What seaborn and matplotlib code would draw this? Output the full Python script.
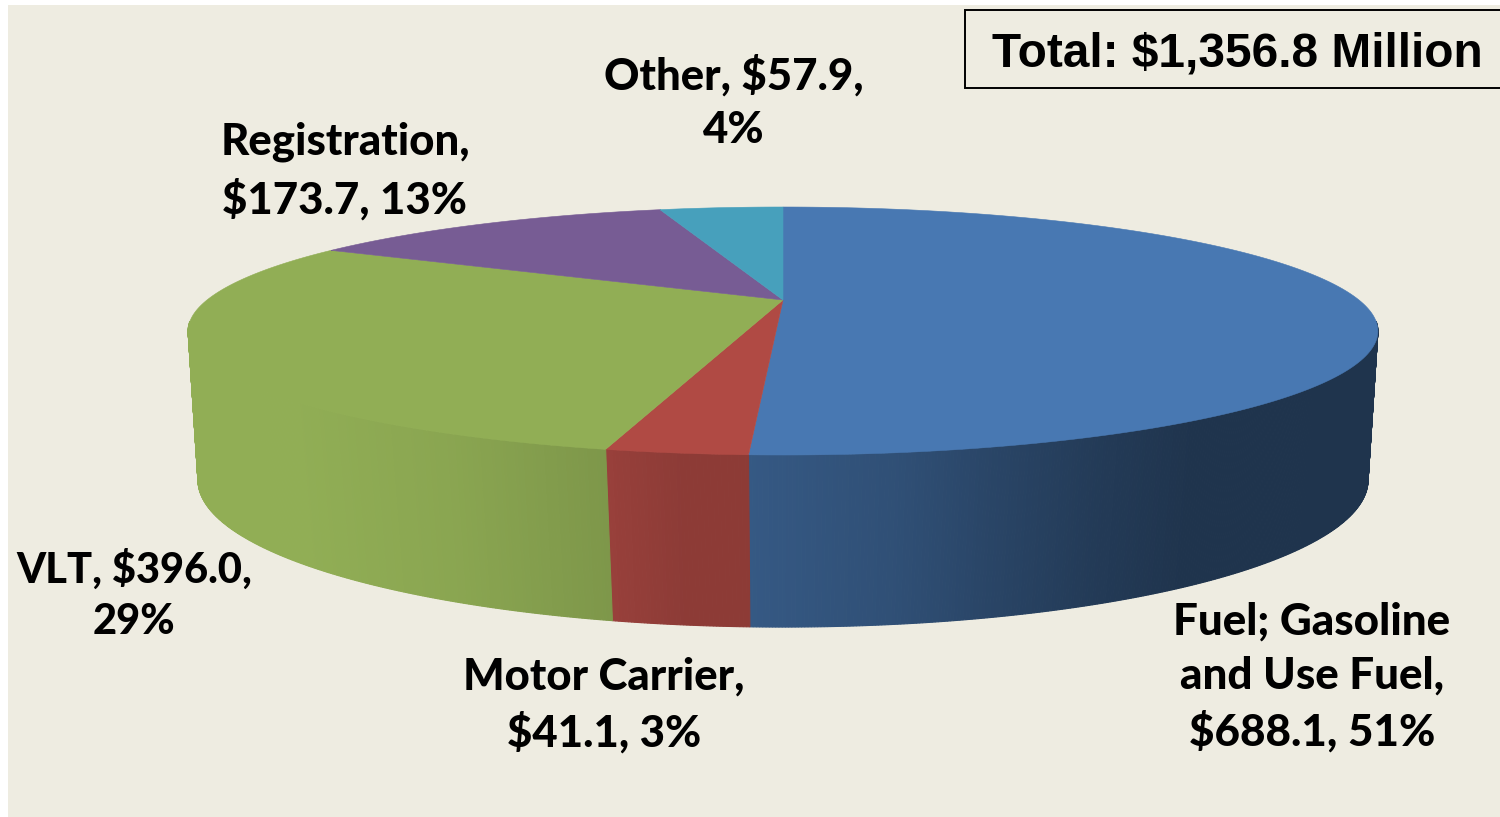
import numpy as np
import matplotlib
matplotlib.use("Agg")
import matplotlib.pyplot as plt
from matplotlib.patches import Rectangle
import seaborn as sns

# receita em milhoes de dolares
categorias = ["Fuel; Gasoline and Use Fuel", "Motor Carrier", "VLT", "Registration", "Other"]
valores = [688.1, 41.1, 396.0, 173.7, 57.9]
rotulos = [
    "Fuel; Gasoline\nand Use Fuel,\n$688.1, 51%",
    "Motor Carrier,\n$41.1, 3%",
    "VLT, $396.0,\n29%",
    "Registration,\n$173.7, 13%",
    "Other, $57.9,\n4%",
]
total_texto = "Total: $1,356.8 Million"

# estilo
sns.set_theme(style="white")
cores = sns.color_palette(["#4878B2", "#B04A44", "#91AE55", "#775C94", "#47A0BC"])
fundo = "#EEECE1"
pos_rotulos = [(1312, 677), (604, 705), (134, 595), (345, 171), (734, 102)]
tam_rotulos = [31.7, 31.5, 30, 31.5, 31.5]


def borda(theta, a, b, cy, k, cx=783):
    # circulo projetado em perspectiva
    u = np.sin(theta)
    v = np.cos(theta)
    d = 1 + k * v
    return cx + a * u / d, cy - b * v / d


def topo(theta):
    return borda(theta, 576, 116.25, 300, 0.25)


def base(theta):
    return borda(theta, 569.6, 139.4, 446.5, 0.228)


def sombra(x):
    return np.interp(x, [290, 450, 600, 750, 900, 1000, 1100, 1200, 1378],
                     [1.0, 0.95, 0.87, 0.74, 0.66, 0.57, 0.49, 0.43, 0.43])


fig = plt.figure(figsize=(15, 8.17), dpi=100, facecolor="white")
ax = fig.add_axes([0, 0, 1, 1])
ax.set_xlim(0, 1500)
ax.set_ylim(817, 0)
ax.axis("off")
ax.add_patch(Rectangle((8, 5), 1492, 812, facecolor=fundo, edgecolor="none", zorder=0))

limites = 2 * np.pi * np.cumsum([0] + valores) / sum(valores)
vis_ini, vis_fim = np.radians(100), np.radians(260)

# lateral (faixas finas para fazer o degrade)
for i in range(len(valores)):
    t0 = max(limites[i], vis_ini)
    t1 = min(limites[i + 1], vis_fim)
    if t1 <= t0:
        continue
    passos = np.linspace(t0, t1, max(int(np.degrees(t1 - t0) * 4), 2))
    for p0, p1 in zip(passos[:-1], passos[1:]):
        x0, y0 = topo(p0)
        x1, y1 = topo(p1)
        x2, y2 = base(p1)
        x3, y3 = base(p0)
        f = sombra((x0 + x1) / 2)
        if i == 1:
            # a fatia vermelha quase nao escurece
            f = max(f, 0.8)
        cor = tuple(c * f for c in cores[i])
        ax.fill([x0, x1, x2, x3], [y0, y1, y2, y3], color=cor, lw=0.8, zorder=2)

# tampa
for i in range(len(valores)):
    t = np.linspace(limites[i], limites[i + 1], 200)
    xs, ys = topo(t)
    cx, cy = topo(0.0)[0], 300
    ax.fill(np.r_[cx, xs], np.r_[cy, ys], color=cores[i], lw=0.4, zorder=3)

for texto, (x, y), tam in zip(rotulos, pos_rotulos, tam_rotulos):
    ax.text(x, y, texto, ha="center", va="center", family="Lato", weight="black",
            fontsize=tam, linespacing=1.43, color="black", zorder=5)

ax.add_patch(Rectangle((965, 10), 560, 78, facecolor=fundo, edgecolor="black", lw=1.4, zorder=4))
ax.text(1237, 54, total_texto, ha="center", va="center", family="Liberation Sans",
        weight="bold", fontsize=34.4, color="black", zorder=5)

plt.savefig("out.png", dpi=100)
